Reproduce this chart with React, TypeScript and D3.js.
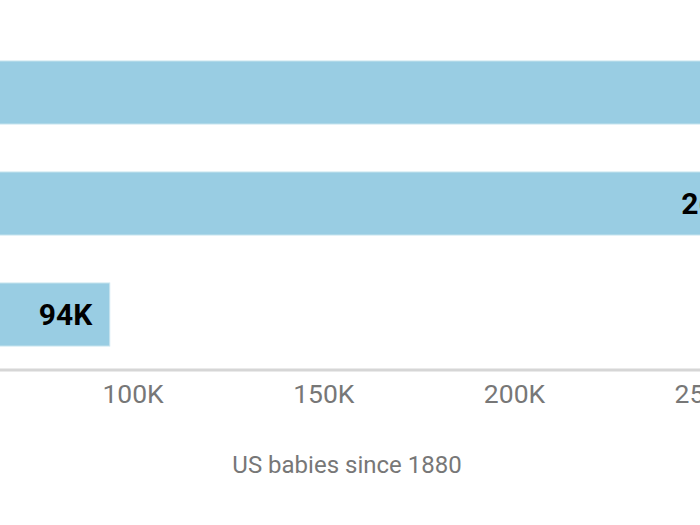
import React, { useEffect, useRef } from "react";
import * as d3 from "d3";

const categories = ["Name A", "Name B", "Name C"];
const values = [330000, 267000, 94000];
const valueLabels = ["330K", "267K", "94K"];
const tickValues = [100000, 150000, 200000, 250000];
const axisTitle = "US babies since 1880";

const W = 700;
const H = 525;

export default function App() {
  const ref = useRef<SVGSVGElement>(null);

  useEffect(() => {
    const svg = d3.select(ref.current);
    svg.selectAll("*").remove();

    const x = d3.scaleLinear().domain([0, 200000]).range([-248.8, 514]);
    const y = d3
      .scaleBand<string>()
      .domain(categories)
      .range([37, 370])
      .paddingInner(0.432)
      .paddingOuter(0.216);

    const data = categories.map((c, i) => ({ c, v: values[i], l: valueLabels[i] }));

    svg
      .append("g")
      .selectAll("rect")
      .data(data)
      .join("rect")
      .attr("x", x(0))
      .attr("y", (d) => y(d.c)!)
      .attr("width", (d) => x(d.v) - x(0))
      .attr("height", y.bandwidth())
      .attr("fill", "#99cde3")
      .attr("stroke", "#c9e4ef")
      .attr("stroke-width", 1);

    svg
      .append("g")
      .selectAll("text")
      .data(data)
      .join("text")
      .attr("x", (d) => x(d.v) - 17.5)
      .attr("y", (d) => y(d.c)! + y.bandwidth() / 2 + 10.5)
      .attr("text-anchor", "end")
      .attr("font-family", "Roboto")
      .attr("font-weight", "bold")
      .attr("font-size", 30)
      .attr("fill", "#000")
      .text((d) => d.l);

    const axis = d3
      .axisBottom(x)
      .tickValues(tickValues)
      .tickSize(0)
      .tickPadding(0)
      .tickFormat((d) => `${(d as number) / 1000}K`);

    const g = svg.append("g").attr("transform", "translate(0,370)").call(axis);
    g.select(".domain").remove();
    g.selectAll("text")
      .attr("dy", null)
      .attr("y", 33)
      .attr("font-family", "Roboto")
      .attr("font-size", 26.5)
      .attr("fill", "#777");

    svg
      .append("line")
      .attr("x1", 0)
      .attr("x2", W)
      .attr("y1", 370)
      .attr("y2", 370)
      .attr("stroke", "#d6d6d6")
      .attr("stroke-width", 3);

    svg
      .append("text")
      .attr("x", 347)
      .attr("y", 473)
      .attr("text-anchor", "middle")
      .attr("font-family", "Roboto")
      .attr("font-size", 24)
      .attr("fill", "#777")
      .text(axisTitle);
  }, []);

  return (
    <svg
      ref={ref}
      width={W}
      height={H}
      style={{ position: "absolute", left: 0, top: 0, background: "#fff" }}
    />
  );
}
